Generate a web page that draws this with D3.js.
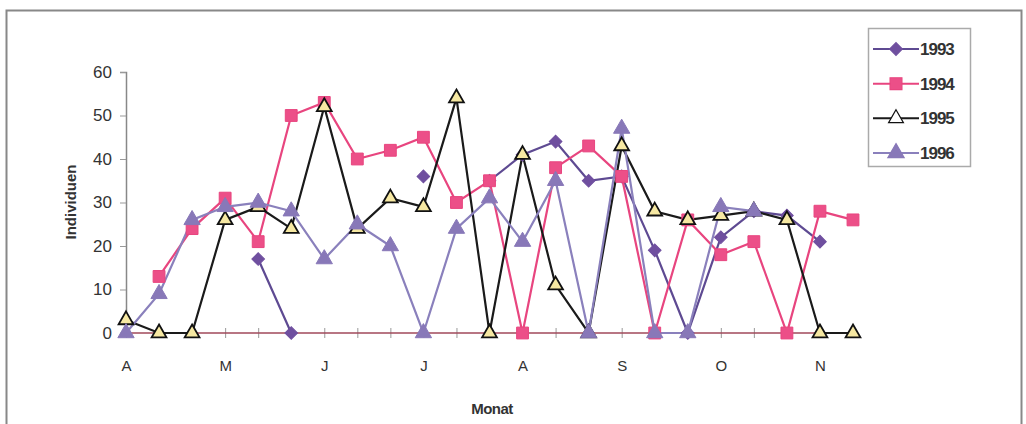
<!DOCTYPE html>
<meta charset="utf-8"/>
<title>Individuen pro Monat</title>
<script src="https://cdn.jsdelivr.net/npm/d3@7"></script>
<style>
  body { margin: 0; background: #fff; }
  text { font-family: Arial, "Liberation Sans", sans-serif; fill: #333; }
  .bold { font-family: "Liberation Sans Narrow", "Liberation Sans", Arial, sans-serif; font-weight: bold; }
</style>
<svg width=1026 height=424></svg>
<script>
  // 23 Termine von April bis November, Beschriftung nur jeder dritte
  const monthLabels = ["A", "", "", "M", "", "", "J", "", "", "J", "", "", "A", "", "", "S", "", "", "O", "", "", "N", ""];
  const yTicks = [0, 10, 20, 30, 40, 50, 60];
  const years = ["1993", "1994", "1995", "1996"];

  const v1993 = [null, null, null, null, 17, 0, null, null, null, 36, null, 35, 41, 44, 35, 36, 19, 0, 22, 28, 27, 21, null];
  const v1994 = [null, 13, 24, 31, 21, 50, 53, 40, 42, 45, 30, 35, 0, 38, 43, 36, 0, 26, 18, 21, 0, 28, 26];
  const v1995 = [3, 0, 0, 26, 29, 24, 52, 24, 31, 29, 54, 0, 41, 11, 0, 43, 28, 26, 27, 28, 26, 0, 0];
  const v1996 = [0, 9, 26, 29, 30, 28, 17, 25, 20, 0, 24, 31, 21, 35, 0, 47, 0, 0, 29, 28, null, null, null];

  // Raute = gedrehtes Quadrat
  const series = [
    {name: years[0], values: v1993, line: "#5e4a92", fill: "#6f4f9f", stroke: "#6f4f9f", shape: d3.symbolSquare, size: 80, rot: 45},
    {name: years[1], values: v1994, line: "#e8457f", fill: "#ec4f88", stroke: "#e8457f", shape: d3.symbolSquare, size: 140, rot: 0},
    {name: years[2], values: v1995, line: "#1a1a1a", fill: "#f6e8a2", stroke: "#111", shape: d3.symbolTriangle, size: 95, rot: 0},
    {name: years[3], values: v1996, line: "#8a80bc", fill: "#8878b8", stroke: "#8878b8", shape: d3.symbolTriangle, size: 115, rot: 0}
  ];

  const svg = d3.select("svg");

  // Rahmen
  svg.append("rect")
    .attr("x", 6.5).attr("y", 10.5).attr("width", 1015).attr("height", 420)
    .attr("fill", "none").attr("stroke", "#888").attr("stroke-width", 2);

  const x = d3.scalePoint().domain(d3.range(monthLabels.length)).range([126, 853]);
  const y = d3.scaleLinear().domain([0, 60]).range([333, 72]);

  // y-Achse
  const yAxis = svg.append("g")
    .attr("transform", "translate(126,0)")
    .call(d3.axisLeft(y).tickValues(yTicks).tickSize(6).tickPadding(8));
  yAxis.select(".domain").attr("stroke", "#888").attr("stroke-width", 1.5);
  yAxis.selectAll(".tick line").attr("stroke", "#999");
  yAxis.selectAll(".tick text").style("font-size", "17px").attr("fill", "#2e2a2c");

  // x-Achse mit Teilstrichen durch die Linie
  const xAxis = svg.append("g")
    .attr("transform", "translate(0,333)")
    .call(d3.axisBottom(x).tickSize(0).tickPadding(27).tickFormat(i => monthLabels[i]));
  xAxis.select(".domain").remove();
  xAxis.selectAll(".tick text").style("font-size", "15px").attr("fill", "#2e2a2c");
  xAxis.selectAll(".tick").append("line")
    .attr("y1", -5).attr("y2", 5).attr("stroke", "#999");
  svg.append("line")
    .attr("x1", 126).attr("x2", 853).attr("y1", 333).attr("y2", 333)
    .attr("stroke", "#a0485a").attr("stroke-width", 1.5);

  // Achsentitel
  svg.append("text").attr("class", "bold")
    .attr("transform", "translate(76,202) rotate(-90)")
    .attr("text-anchor", "middle")
    .style("font-size", "15px").text("Individuen");
  svg.append("text").attr("class", "bold")
    .attr("x", 492).attr("y", 414).attr("text-anchor", "middle")
    .style("font-size", "15px").style("letter-spacing", "-0.5px").text("Monat");

  const line = d3.line()
    .defined(d => d != null)
    .x((d, i) => x(i))
    .y(d => y(d));

  series.forEach(s => {
    svg.append("path")
      .datum(s.values)
      .attr("fill", "none")
      .attr("stroke", s.line)
      .attr("stroke-width", 2.2)
      .attr("d", line);
  });

  series.forEach(s => {
    svg.append("g").selectAll("path")
      .data(s.values.map((v, i) => ({v, i})).filter(d => d.v != null))
      .join("path")
      .attr("transform", d => `translate(${x(d.i)},${y(d.v)}) rotate(${s.rot})`)
      .attr("d", d3.symbol(s.shape, s.size))
      .attr("fill", s.fill)
      .attr("stroke", s.stroke)
      .attr("stroke-width", s.name === "1995" ? 1.8 : 1);
  });

  // Legende
  const legend = svg.append("g");
  legend.append("rect")
    .attr("x", 868.5).attr("y", 28.5).attr("width", 102).attr("height", 138)
    .attr("fill", "#fff").attr("stroke", "#aaa").attr("stroke-width", 1.5);
  const ly = d3.scalePoint().domain(years).range([49, 153]);
  series.forEach(s => {
    const g = legend.append("g").attr("transform", `translate(0,${ly(s.name)})`);
    g.append("line").attr("x1", 873).attr("x2", 919)
      .attr("stroke", s.line).attr("stroke-width", 2);
    g.append("path").attr("transform", `translate(896,0) rotate(${s.rot})`)
      .attr("d", d3.symbol(s.shape, s.size))
      .attr("fill", s.name === "1995" ? "#fff" : s.fill)
      .attr("stroke", s.stroke).attr("stroke-width", 1.2);
    g.append("text").attr("class", "bold")
      .attr("x", 920).attr("y", 6)
      .style("font-size", "17px").style("letter-spacing", "-1px")
      .text(s.name);
  });
</script>
